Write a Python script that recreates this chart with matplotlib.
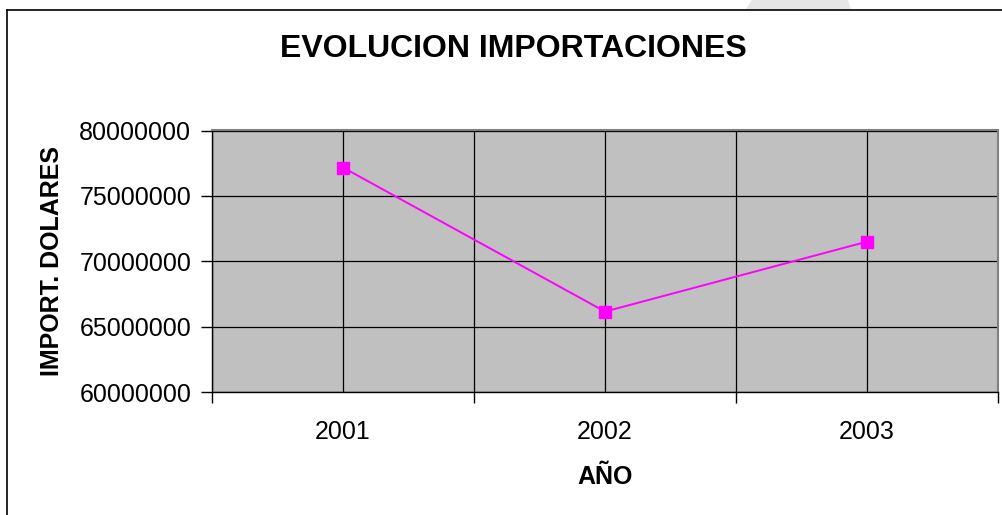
import matplotlib
matplotlib.use('Agg')
import matplotlib.pyplot as plt
from matplotlib.lines import Line2D
from matplotlib.patches import Polygon
from matplotlib.ticker import FuncFormatter

plt.rcParams['font.family'] = ['Liberation Sans', 'DejaVu Sans']

# data
years = ['2001', '2002', '2003']
imports_usd = [77170000, 66150000, 71500000]
y_ticks = [60000000, 65000000, 70000000, 75000000, 80000000]

W, H = 1002, 515
fig = plt.figure(figsize=(W / 100, H / 100), dpi=100)
fig.patch.set_facecolor('white')

# plot area in pixel terms: x 212..998, y 130.5..392
ax = fig.add_axes([212 / W, (H - 392) / H, (998 - 212) / W, (392 - 130.5) / H])
ax.set_facecolor('#C0C0C0')

x = list(range(len(years)))
ax.plot(x, imports_usd, color='#FF00FF', linewidth=1.4,
        marker='s', markersize=8.5, markerfacecolor='#FF00FF',
        markeredgecolor='#FF00FF', zorder=3)

ax.set_xlim(-0.5, len(years) - 0.5)
ax.set_ylim(y_ticks[0], y_ticks[-1])

# category boundaries get tick marks, category centres get labels
ax.set_xticks([i - 0.5 for i in range(len(years) + 1)])
ax.set_xticklabels([])
ax.set_xticks(x, minor=True)
ax.set_xticklabels(years, minor=True)
ax.tick_params(axis='x', which='major', direction='out', length=8, width=1, color='black')
ax.tick_params(axis='x', which='minor', length=0, pad=20, labelsize=18)

ax.set_yticks(y_ticks)
ax.yaxis.set_major_formatter(FuncFormatter(lambda v, p: f'{int(v)}'))
ax.tick_params(axis='y', direction='out', length=8, width=1, color='black', pad=7, labelsize=18)

ax.grid(True, which='both', axis='x', color='black', linewidth=0.9)
ax.grid(True, which='major', axis='y', color='black', linewidth=0.9)
ax.set_axisbelow(True)

for side in ['left', 'bottom']:
    ax.spines[side].set_color('black')
    ax.spines[side].set_linewidth(1.0)
for side in ['top', 'right']:
    ax.spines[side].set_color('#808080')
    ax.spines[side].set_linewidth(1.5)

ax.set_xlabel('AÑO', fontsize=18, fontweight='bold', va='center')
ax.xaxis.set_label_coords(0.5, -(477 - 392) / (392 - 130.5))
ax.set_ylabel('IMPORT. DOLARES', fontsize=18, fontweight='bold', va='center')
ax.yaxis.set_label_coords(-(212 - 52) / (998 - 212), 0.5)

fig.text(513 / W, 1 - 49 / H, 'EVOLUCION IMPORTACIONES', fontsize=23,
         fontweight='bold', ha='center', va='center')

# faint watermark shape above the frame, top right
fig.add_artist(Polygon([(745 / W, 1 - 10 / H), (752 / W, 1.0), (848 / W, 1.0), (851 / W, 1 - 10 / H)],
                       closed=True, transform=fig.transFigure, facecolor='#E6E6E6',
                       edgecolor='none', zorder=0))

# chart frame (only left and top are inside the picture)
fig.add_artist(Line2D([7 / W, 7 / W], [0, 1 - 10 / H], transform=fig.transFigure,
                      color='black', linewidth=1.2))
fig.add_artist(Line2D([7 / W, 1.0], [1 - 10 / H, 1 - 10 / H], transform=fig.transFigure,
                      color='black', linewidth=1.2))

fig.savefig('out.png', dpi=100)
